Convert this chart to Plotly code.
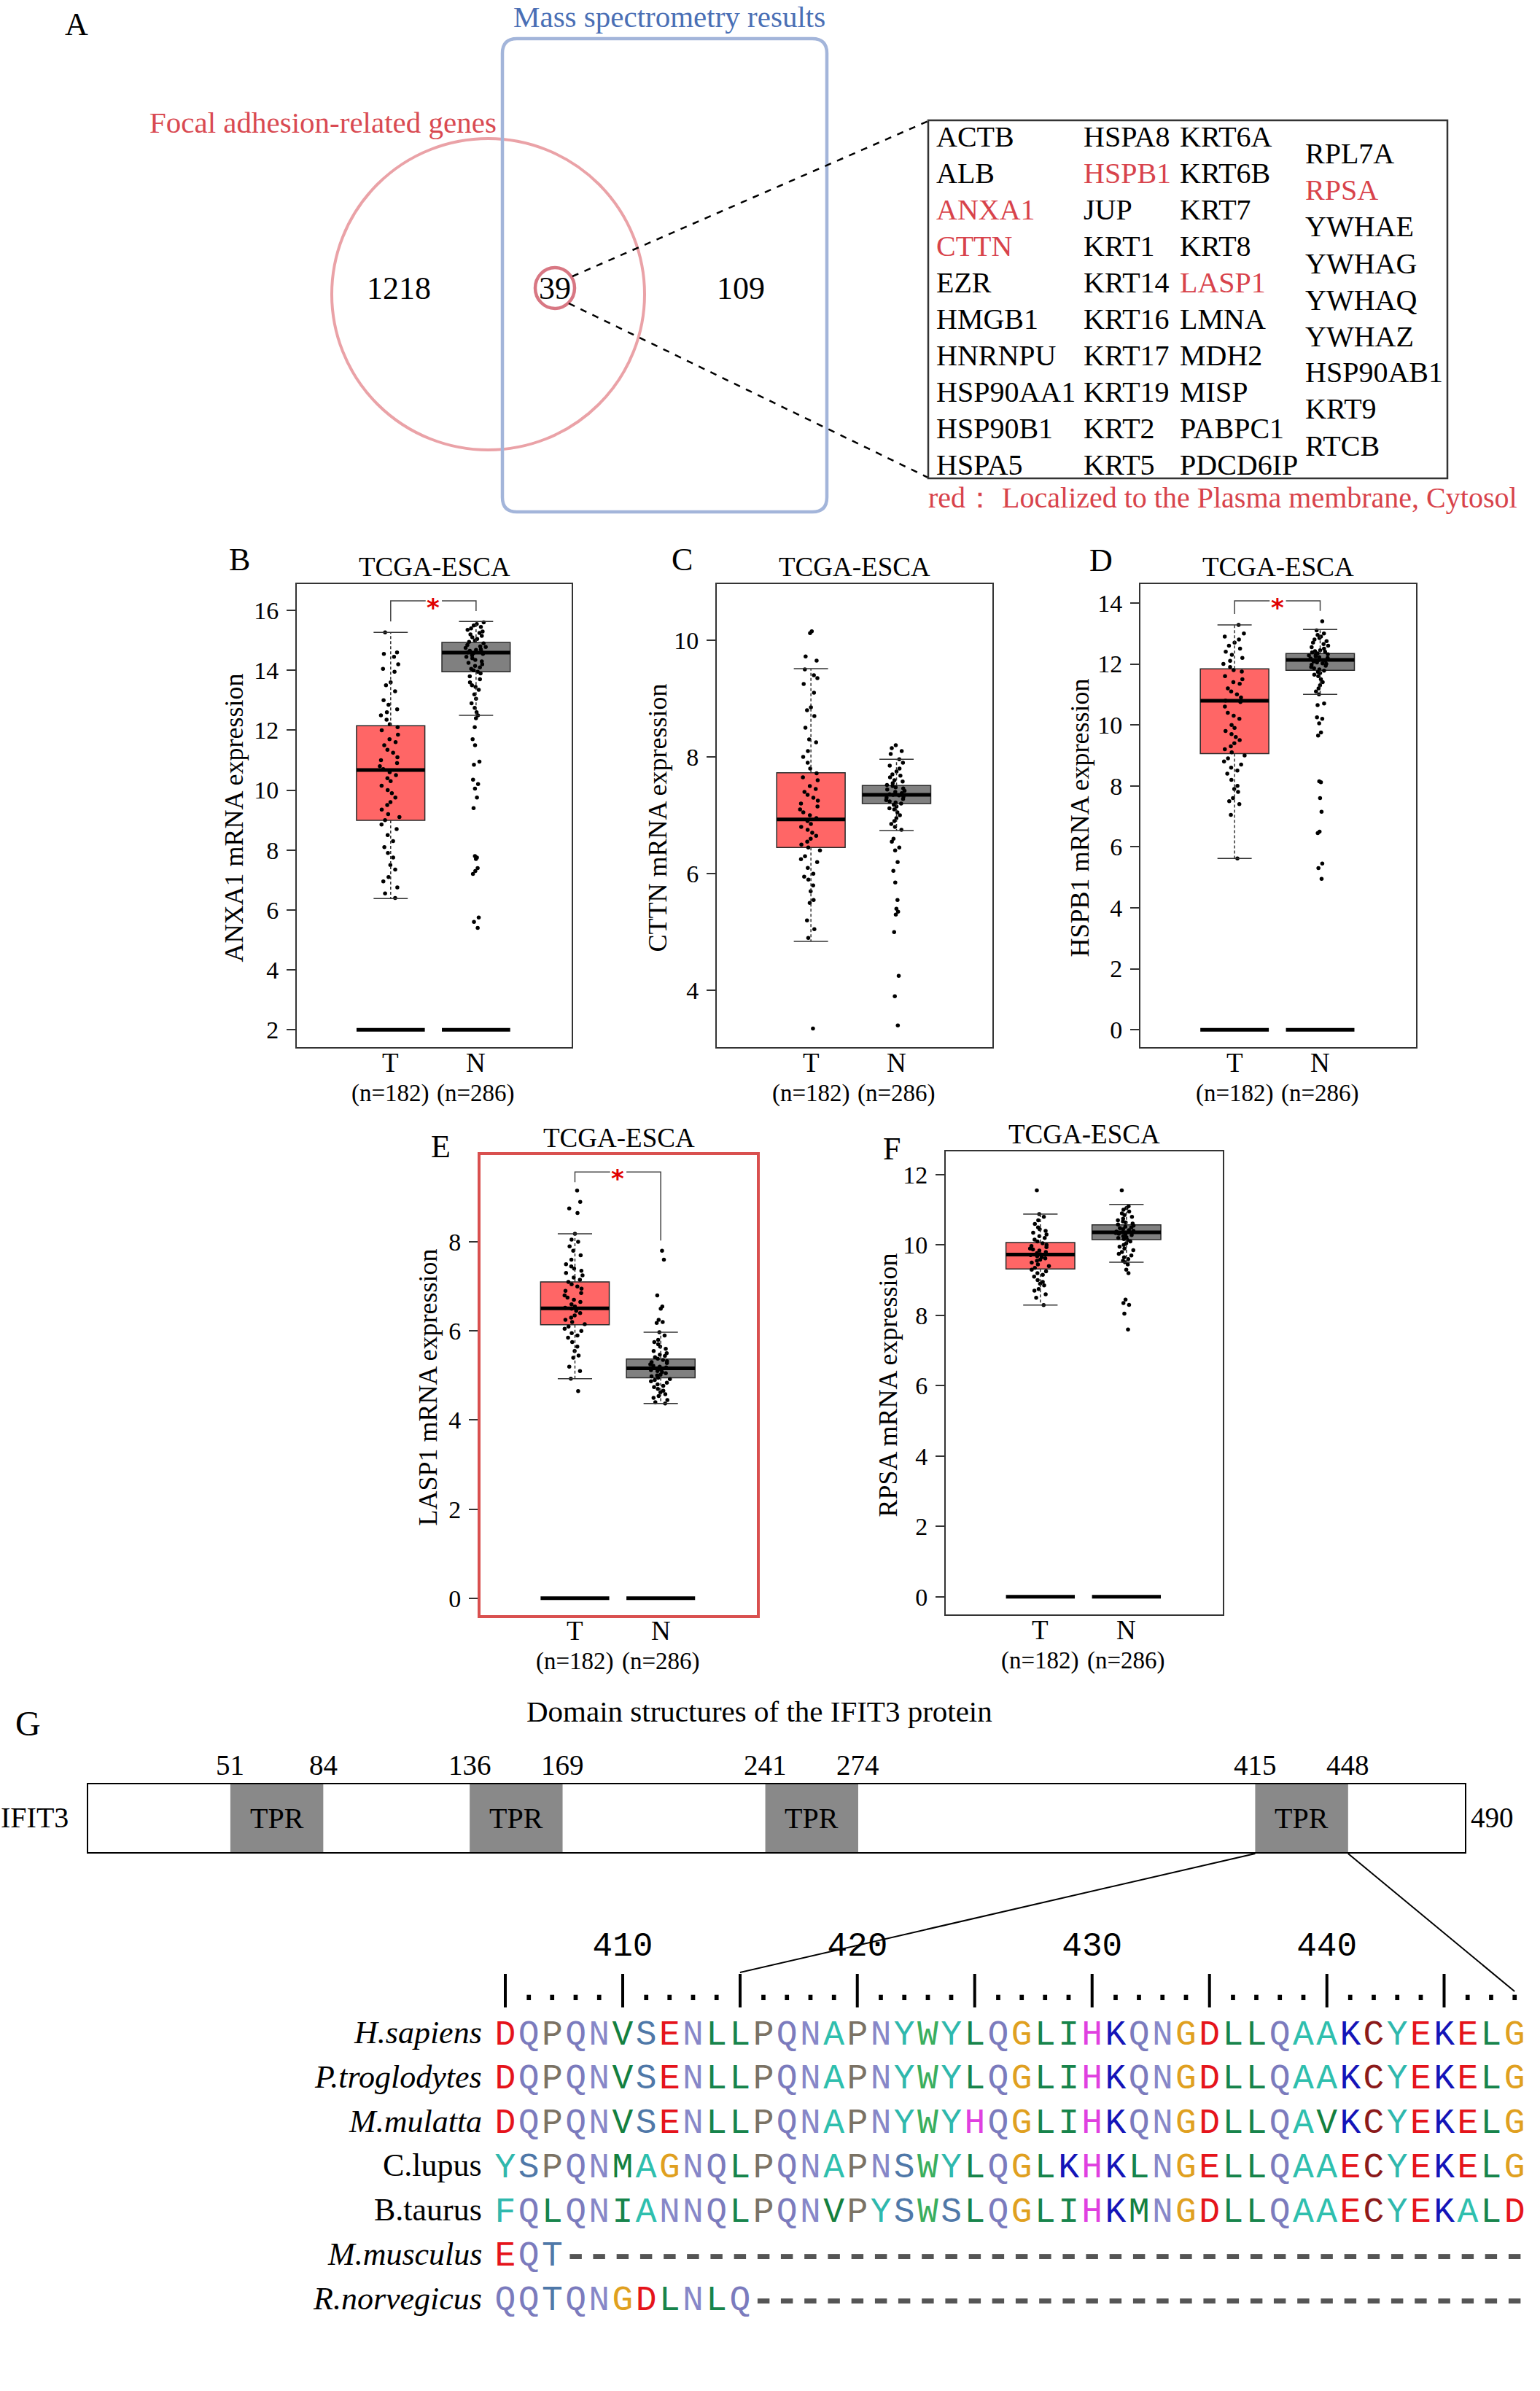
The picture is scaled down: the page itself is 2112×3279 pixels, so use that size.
import plotly.graph_objects as go

W, H = 2112, 3279
def X(px): return px / W
def Y(py): return 1 - py / H

# ======================= DATA =======================
venn_left_only = 1218
venn_overlap = 39
venn_right_only = 109
set_names = ["Focal adhesion-related genes", "Mass spectrometry results"]

gene_col1 = ["ACTB", "ALB", "ANXA1", "CTTN", "EZR", "HMGB1", "HNRNPU", "HSP90AA1", "HSP90B1", "HSPA5"]
gene_col2 = ["HSPA8", "HSPB1", "JUP", "KRT1", "KRT14", "KRT16", "KRT17", "KRT19", "KRT2", "KRT5"]
gene_col3 = ["KRT6A", "KRT6B", "KRT7", "KRT8", "LASP1", "LMNA", "MDH2", "MISP", "PABPC1", "PDCD6IP"]
gene_col4 = ["RPL7A", "RPSA", "YWHAE", "YWHAG", "YWHAQ", "YWHAZ", "HSP90AB1", "KRT9", "RTCB"]
red_genes = ["ANXA1", "CTTN", "HSPB1", "LASP1", "RPSA"]
legend_note = "red： Localized to the Plasma membrane, Cytosol"

dataset = "TCGA-ESCA"
genes = ["ANXA1", "CTTN", "HSPB1", "LASP1", "RPSA"]
panel_letters = ["B", "C", "D", "E", "F"]
groups = ["T", "N"]
group_n = [182, 286]
group_pos = [1, 2]

# (lower whisker, Q1, median, Q3, upper whisker)
stats_T = {
    "ANXA1": [6.38, 8.99, 10.67, 12.15, 15.27],
    "CTTN": [4.84, 6.45, 6.93, 7.73, 9.51],
    "HSPB1": [5.62, 9.06, 10.79, 11.84, 13.28],
    "LASP1": [4.93, 6.14, 6.51, 7.10, 8.18],
    "RPSA": [8.29, 9.32, 9.73, 10.07, 10.88],
}
stats_N = {
    "ANXA1": [12.50, 13.95, 14.59, 14.93, 15.63],
    "CTTN": [6.74, 7.20, 7.35, 7.51, 7.96],
    "HSPB1": [11.00, 11.79, 12.13, 12.34, 13.13],
    "LASP1": [4.37, 4.95, 5.16, 5.37, 5.97],
    "RPSA": [9.51, 10.15, 10.36, 10.57, 11.15],
}
# sample points (estimated, a representative subset)
pts_T = {
    "ANXA1": [15.27, 14.6, 14.55, 14.45, 14.2, 14.05, 13.95, 13.6, 13.5, 13.3, 13.0, 12.85, 12.7, 12.6, 12.5,
              12.35, 12.2, 12.1, 12.0, 11.85, 11.7, 11.6, 11.5, 11.35, 11.25, 11.1, 11.0, 10.9, 10.8, 10.7,
              10.6, 10.5, 10.4, 10.3, 10.15, 10.0, 9.9, 9.75, 9.6, 9.5, 9.35, 9.2, 9.1, 9.0, 8.85, 8.7, 8.5,
              8.3, 8.1, 7.9, 7.75, 7.5, 7.35, 7.1, 6.95, 6.75, 6.55, 6.4],
    "CTTN": [10.15, 10.12, 9.72, 9.65, 9.5, 9.4, 9.35, 9.25, 9.1, 8.85, 8.8, 8.7, 8.5, 8.3, 8.25, 8.1, 8.0,
             7.9, 7.8, 7.72, 7.65, 7.6, 7.5, 7.45, 7.4, 7.35, 7.3, 7.25, 7.2, 7.15, 7.1, 7.05, 7.0, 6.95, 6.9,
             6.85, 6.8, 6.75, 6.7, 6.65, 6.6, 6.55, 6.5, 6.45, 6.4, 6.3, 6.25, 6.2, 6.1, 6.0, 5.95, 5.9, 5.8,
             5.7, 5.55, 5.5, 5.2, 5.05, 4.9, 3.35],
    "HSPB1": [13.28, 13.0, 12.9, 12.8, 12.7, 12.6, 12.5, 12.4, 12.3, 12.2, 12.1, 12.0, 11.9, 11.8, 11.75,
              11.6, 11.5, 11.4, 11.35, 11.2, 11.1, 11.0, 10.9, 10.8, 10.75, 10.6, 10.4, 10.3, 10.2, 10.0, 9.9,
              9.8, 9.7, 9.6, 9.5, 9.4, 9.3, 9.2, 9.1, 9.0, 8.9, 8.8, 8.7, 8.6, 8.5, 8.4, 8.2, 8.0, 7.9, 7.8,
              7.6, 7.5, 7.4, 7.05, 5.62],
    "LASP1": [9.15, 8.9, 8.75, 8.65, 8.18, 8.05, 8.0, 7.9, 7.8, 7.7, 7.6, 7.5, 7.45, 7.4, 7.35, 7.3, 7.25,
              7.2, 7.15, 7.1, 7.05, 7.0, 6.95, 6.9, 6.85, 6.8, 6.75, 6.7, 6.65, 6.6, 6.55, 6.52, 6.5, 6.45,
              6.4, 6.35, 6.3, 6.25, 6.2, 6.15, 6.1, 6.05, 6.0, 5.95, 5.9, 5.85, 5.75, 5.65, 5.55, 5.45, 5.4,
              5.2, 5.1, 4.93, 4.65],
    "RPSA": [11.55, 10.88, 10.8, 10.7, 10.6, 10.5, 10.45, 10.4, 10.35, 10.3, 10.25, 10.2, 10.15, 10.1, 10.05,
             10.0, 9.97, 9.94, 9.9, 9.87, 9.84, 9.8, 9.77, 9.74, 9.71, 9.68, 9.65, 9.62, 9.58, 9.55, 9.5,
             9.45, 9.4, 9.35, 9.3, 9.25, 9.2, 9.15, 9.1, 9.0, 8.95, 8.9, 8.85, 8.75, 8.7, 8.6, 8.5, 8.29],
}
pts_N = {
    "ANXA1": [15.6, 15.55, 15.5, 15.45, 15.4, 15.35, 15.3, 15.25, 15.2, 15.15, 15.1, 15.05, 15.0, 14.95, 14.9,
              14.85, 14.8, 14.78, 14.75, 14.7, 14.68, 14.65, 14.62, 14.6, 14.58, 14.55, 14.5, 14.45, 14.4,
              14.35, 14.3, 14.25, 14.2, 14.15, 14.1, 14.05, 14.0, 13.95, 13.9, 13.8, 13.7, 13.6, 13.5, 13.45,
              13.35, 13.2, 13.05, 12.9, 12.75, 12.6, 12.5, 12.4, 12.1, 11.7, 11.5, 10.95, 10.85, 10.35, 10.2,
              10.05, 9.75, 9.4, 7.8, 7.75, 7.7, 7.4, 7.3, 7.2, 5.75, 5.6, 5.4],
    "CTTN": [8.2, 8.15, 8.1, 8.05, 7.96, 7.9, 7.85, 7.8, 7.75, 7.7, 7.68, 7.65, 7.6, 7.58, 7.55, 7.52, 7.5,
             7.48, 7.46, 7.44, 7.42, 7.4, 7.38, 7.36, 7.35, 7.34, 7.32, 7.3, 7.28, 7.26, 7.24, 7.22, 7.2,
             7.18, 7.15, 7.12, 7.1, 7.05, 7.0, 6.95, 6.9, 6.85, 6.8, 6.75, 6.6, 6.55, 6.45, 6.4, 6.2, 6.05,
             5.85, 5.55, 5.4, 5.35, 5.3, 5.0, 4.25, 3.9, 3.4],
    "HSPB1": [13.4, 13.1, 13.0, 12.95, 12.9, 12.85, 12.8, 12.75, 12.7, 12.65, 12.6, 12.55, 12.5, 12.45, 12.42,
              12.4, 12.38, 12.35, 12.32, 12.3, 12.28, 12.25, 12.22, 12.2, 12.18, 12.15, 12.13, 12.1, 12.08,
              12.05, 12.02, 12.0, 11.97, 11.94, 11.9, 11.86, 11.82, 11.78, 11.74, 11.7, 11.65, 11.6, 11.5,
              11.4, 11.3, 11.2, 11.1, 11.0, 10.7, 10.65, 10.25, 10.2, 10.05, 9.75, 9.65, 8.15, 8.12, 7.6,
              7.15, 6.5, 6.45, 5.45, 5.3, 4.95],
    "LASP1": [7.8, 7.6, 6.8, 6.55, 6.5, 6.25, 6.2, 6.18, 5.97, 5.9, 5.8, 5.75, 5.7, 5.65, 5.6, 5.55, 5.5,
              5.47, 5.44, 5.41, 5.38, 5.35, 5.32, 5.3, 5.28, 5.25, 5.22, 5.2, 5.18, 5.16, 5.14, 5.12, 5.1,
              5.08, 5.05, 5.02, 5.0, 4.98, 4.95, 4.92, 4.9, 4.87, 4.84, 4.8, 4.77, 4.74, 4.7, 4.66, 4.62,
              4.58, 4.54, 4.5, 4.45, 4.4, 4.37],
    "RPSA": [11.55, 11.1, 11.05, 11.0, 10.95, 10.9, 10.85, 10.8, 10.75, 10.7, 10.67, 10.64, 10.61, 10.58,
             10.55, 10.52, 10.5, 10.48, 10.45, 10.42, 10.4, 10.38, 10.36, 10.34, 10.32, 10.3, 10.28, 10.25,
             10.22, 10.2, 10.17, 10.14, 10.1, 10.05, 10.0, 9.95, 9.9, 9.85, 9.8, 9.75, 9.7, 9.65, 9.6, 9.55,
             9.51, 9.45, 9.3, 9.2, 8.45, 8.35, 8.3, 8.05, 7.6],
}
baseline = {"ANXA1": 2, "CTTN": 0, "HSPB1": 0, "LASP1": 0, "RPSA": 0}
# significance bracket: (bar height, T-end, N-end) or None
sig_bracket = {
    "ANXA1": (16.32, 15.63, 15.98),
    "CTTN": None,
    "HSPB1": (14.07, 13.64, 13.74),
    "LASP1": (9.57, 9.34, 8.03),
    "RPSA": None,
}

protein_name = "IFIT3"
protein_len = 490
tpr_start = [51, 136, 241, 415]
tpr_end = [84, 169, 274, 448]
domain_name = "TPR"
domain_title = "Domain structures of the IFIT3 protein"

aln_start = 405
species = ["H.sapiens", "P.troglodytes", "M.mulatta", "C.lupus", "B.taurus", "M.musculus", "R.norvegicus"]
species_italic = [True, True, True, False, False, True, True]
sequences = [
    "DQPQNVSENLLPQNAPNYWYLQGLIHKQNGDLLQAAKCYEKELG",
    "DQPQNVSENLLPQNAPNYWYLQGLIHKQNGDLLQAAKCYEKELG",
    "DQPQNVSENLLPQNAPNYWYHQGLIHKQNGDLLQAVKCYEKELG",
    "YSPQNMAGNQLPQNAPNSWYLQGLKHKLNGELLQAAECYEKELG",
    "FQLQNIANNQLPQNVPYSWSLQGLIHKMNGDLLQAAECYEKALD",
    "EQT-----------------------------------------",
    "QQTQNGDLNLQ---------------------------------",
]
ruler_labels = [410, 420, 430, 440]

aa_colors = {
    "D": "#e5141b", "E": "#e5141b", "Q": "#7b7bbd", "N": "#8787c8", "P": "#7b7264",
    "V": "#14803f", "L": "#17844b", "I": "#17844b", "M": "#14803f", "S": "#4f78a8",
    "T": "#4f78a8", "A": "#2fbfae", "Y": "#2fb8ad", "F": "#2fb8ad", "W": "#3aae5e",
    "G": "#e0a020", "H": "#e040e0", "K": "#1414b8", "R": "#1414b8", "C": "#8b1a1a",
    "-": "#555555",
}

# ======================= LAYOUT HELPERS =======================
SERIF = "Liberation Serif"
MONO = "Liberation Mono"
RED = "#d8434b"

annotations = []
shapes = []

def ann(text, x, y, size, family=SERIF, color="black", xanchor="center", yanchor="middle",
        xref="paper", yref="paper", angle=0, **kw):
    if xref == "paper":
        x = X(x)
    if yref == "paper":
        y = Y(y)
    annotations.append(dict(text=text, x=x, y=y, xref=xref, yref=yref, showarrow=False,
                            xanchor=xanchor, yanchor=yanchor, textangle=angle,
                            font=dict(family=family, size=size, color=color), **kw))

fig = go.Figure()

# ======================= PANEL A =======================
ann("A", 105, 33, 44)
rx0, ry0, rx1, ry1, rr = 689, 53, 1134, 702, 20
path = (f"M {X(rx0+rr)} {Y(ry0)} L {X(rx1-rr)} {Y(ry0)} Q {X(rx1)} {Y(ry0)} {X(rx1)} {Y(ry0+rr)} "
        f"L {X(rx1)} {Y(ry1-rr)} Q {X(rx1)} {Y(ry1)} {X(rx1-rr)} {Y(ry1)} "
        f"L {X(rx0+rr)} {Y(ry1)} Q {X(rx0)} {Y(ry1)} {X(rx0)} {Y(ry1-rr)} "
        f"L {X(rx0)} {Y(ry0+rr)} Q {X(rx0)} {Y(ry0)} {X(rx0+rr)} {Y(ry0)} Z")
shapes.append(dict(type="circle", xref="paper", yref="paper", x0=X(455), x1=X(884), y0=Y(617), y1=Y(190),
                   line=dict(color="#eaa2a7", width=4)))
shapes.append(dict(type="path", path=path, xref="paper", yref="paper", line=dict(color="#a3b5da", width=4.5)))
shapes.append(dict(type="circle", xref="paper", yref="paper", x0=X(734), x1=X(788), y0=Y(423), y1=Y(367),
                   line=dict(color="#d87783", width=4.5)))
shapes.append(dict(type="line", xref="paper", yref="paper", x0=X(785), y0=Y(379), x1=X(1273), y1=Y(166),
                   line=dict(color="black", width=2.5, dash="dash")))
shapes.append(dict(type="line", xref="paper", yref="paper", x0=X(780), y0=Y(416), x1=X(1273), y1=Y(655),
                   line=dict(color="black", width=2.5, dash="dash")))
ann(set_names[1], 918, 23, 41, color="#4a6fb5")
ann(set_names[0], 683, 168, 41, color="#d94a52", xanchor="right")
ann(str(venn_left_only), 547, 396, 44)
ann(str(venn_overlap), 761, 396, 44)
ann(str(venn_right_only), 1016, 396, 44)

shapes.append(dict(type="rect", xref="paper", yref="paper", x0=X(1273), x1=X(1985), y0=Y(656), y1=Y(165),
                   line=dict(color="#333333", width=2.5)))
for col, xl, y0 in [(gene_col1, 1282, 187.5), (gene_col2, 1484, 187.5), (gene_col3, 1616, 187.5),
                    (gene_col4, 1788, 211)]:
    for i, g in enumerate(col):
        ann(g, xl, y0 + 50 * i, 40, color=RED if g in red_genes else "black", xanchor="left")
ann(legend_note, 1271, 682, 40, color=RED, xanchor="left")

# ======================= BOX PANELS =======================
BOX_W = 0.8
CAP_HALF = 0.2
X_RANGE = [-0.10, 3.12]
fills = {"T": "#ff6666", "N": "#808080"}
panels = [
    dict(frame=(407, 784, 801, 1436), yr=(1.42, 16.88), letter=(328, 767), ytx=320),
    dict(frame=(983, 1361, 801, 1436), yr=(3.03, 10.96), letter=(935, 767), ytx=901),
    dict(frame=(1564, 1942, 801, 1436), yr=(-0.57, 14.62), letter=(1510, 768), ytx=1480),
    dict(frame=(659, 1038, 1584, 2215), yr=(-0.38, 9.95), letter=(604, 1572), ytx=586,
         fcolor="#d9504f", fwidth=4),
    dict(frame=(1297, 1677, 1579, 2214), yr=(-0.5, 12.66), letter=(1223, 1575), ytx=1217),
]
axis_ids = ["", "2", "3", "4", "5"]
axes_layout = {}

for k, (gene, p) in enumerate(zip(genes, panels)):
    aid = axis_ids[k]
    xa, ya = "x" + aid, "y" + aid
    fx0, fx1, fy0, fy1 = p["frame"]
    lc = p.get("fcolor", "#333333")
    lw = p.get("fwidth", 2)
    axes_layout["xaxis" + aid] = dict(domain=[X(fx0), X(fx1)], range=X_RANGE, anchor=ya, showline=True,
                                      mirror=True, linecolor=lc, linewidth=lw, showgrid=False, zeroline=False,
                                      showticklabels=False, ticks="", fixedrange=True)
    axes_layout["yaxis" + aid] = dict(domain=[Y(fy1), Y(fy0)], range=list(p["yr"]), anchor=xa, showline=True,
                                      mirror=True, linecolor=lc, linewidth=lw, showgrid=False, zeroline=False,
                                      ticks="outside", ticklen=12, tickwidth=2, tickcolor="#333333",
                                      tick0=0, dtick=2, ticklabelstandoff=4, fixedrange=True,
                                      tickfont=dict(family=SERIF, size=34, color="black"))

    stats = {"T": stats_T[gene], "N": stats_N[gene]}
    pts = {"T": pts_T[gene], "N": pts_N[gene]}
    wx, wy, cx, cy, mx, my, bx, by = [], [], [], [], [], [], [], []
    for grp, pos in zip(groups, group_pos):
        lo, q1, med, q3, hi = stats[grp]
        fig.add_trace(go.Box(x=[pos], q1=[q1], median=[med], q3=[q3], lowerfence=[q1], upperfence=[q3],
                             orientation="v", width=BOX_W, fillcolor=fills[grp], whiskerwidth=0,
                             line=dict(color="#2a2a2a", width=1.5), boxpoints=False,
                             xaxis=xa, yaxis=ya, hoverinfo="skip"))
        wx += [pos, pos, None, pos, pos, None]
        wy += [q3, hi, None, q1, lo, None]
        cx += [pos - CAP_HALF, pos + CAP_HALF, None, pos - CAP_HALF, pos + CAP_HALF, None]
        cy += [hi, hi, None, lo, lo, None]
        mx += [pos - BOX_W / 2, pos + BOX_W / 2, None]
        my += [med, med, None]
        bx += [pos - BOX_W / 2, pos + BOX_W / 2, None]
        by += [baseline[gene], baseline[gene], None]
    fig.add_trace(go.Scatter(x=wx, y=wy, mode="lines", line=dict(color="#333333", width=1.5, dash="4px,3px"),
                             xaxis=xa, yaxis=ya, hoverinfo="skip"))
    fig.add_trace(go.Scatter(x=cx, y=cy, mode="lines", line=dict(color="#333333", width=1.5),
                             xaxis=xa, yaxis=ya, hoverinfo="skip"))
    fig.add_trace(go.Scatter(x=bx, y=by, mode="lines", line=dict(color="black", width=5),
                             xaxis=xa, yaxis=ya, hoverinfo="skip"))
    for grp, pos in zip(groups, group_pos):
        fig.add_trace(go.Box(y=pts[grp], x0=pos, orientation="v", width=BOX_W, boxpoints="all", jitter=0.34,
                             pointpos=0, fillcolor="rgba(0,0,0,0)", line=dict(color="rgba(0,0,0,0)", width=0),
                             marker=dict(color="black", size=5.5), xaxis=xa, yaxis=ya, hoverinfo="skip"))
    fig.add_trace(go.Scatter(x=mx, y=my, mode="lines", line=dict(color="black", width=5),
                             xaxis=xa, yaxis=ya, hoverinfo="skip"))

    sb = sig_bracket[gene]
    if sb is not None:
        top, tdrop, ndrop = sb
        fig.add_trace(go.Scatter(x=[group_pos[0], group_pos[0], 1.41, None, 1.60, group_pos[1], group_pos[1]],
                                 y=[tdrop, top, top, None, top, top, ndrop], mode="lines",
                                 line=dict(color="#444444", width=1.5), xaxis=xa, yaxis=ya, hoverinfo="skip"))
        ann("<b>*</b>", 1.5, top, 34, family="DejaVu Sans", color="#e00000", xref=xa, yref=ya, yshift=-9)

    ann(dataset, (fx0 + fx1) / 2, fy0 - 24, 37)
    ann(panel_letters[k], p["letter"][0], p["letter"][1], 44)
    ann(f"{gene} mRNA expression", p["ytx"], (fy0 + fy1) / 2 + 3, 36, angle=-90)
    for grp, pos, n in zip(groups, group_pos, group_n):
        ann(grp, pos, fy1 + 21, 37, xref=xa)
        ann(f"(n={n})", pos, fy1 + 63, 33, xref=xa)

# ======================= PANEL G: domain =======================
ann("G", 38, 2363, 48)
ann(domain_title, 1041, 2347, 41)
DOM_X0, DOM_X1, DOM_Y0, DOM_Y1 = 119, 2011, 2445, 2542
axes_layout["xaxis6"] = dict(domain=[X(DOM_X0), X(DOM_X1)], range=[0, protein_len], visible=False,
                             anchor="y6", fixedrange=True)
axes_layout["yaxis6"] = dict(domain=[Y(DOM_Y1), Y(DOM_Y0)], range=[0, 1], visible=False, anchor="x6",
                             fixedrange=True)
for s, e in zip(tpr_start, tpr_end):
    shapes.append(dict(type="rect", xref="x6", yref="y6", x0=s, x1=e, y0=0, y1=1,
                       fillcolor="#898989", line=dict(width=0), layer="above"))
shapes.append(dict(type="rect", xref="x6", yref="y6", x0=0, x1=protein_len, y0=0, y1=1,
                   line=dict(color="black", width=4)))
for s, e in zip(tpr_start, tpr_end):
    ann(domain_name, (s + e) / 2, 0.5, 40, xref="x6", yref="y6")
    ann(str(s), s, 2420, 39, xref="x6")
    ann(str(e), e, 2420, 39, xref="x6")
ann(protein_name, 47, 2492, 40)
ann(str(protein_len), protein_len, 2492, 39, xref="x6", xanchor="left", xshift=4)

# ======================= alignment =======================
ALN_PX0, ALN_STEP = 693, 32.19
AX0, AX1 = 650, 2100
axes_layout["xaxis7"] = dict(domain=[X(AX0), X(AX1)],
                             range=[aln_start - (ALN_PX0 - AX0) / ALN_STEP,
                                    aln_start + (AX1 - ALN_PX0) / ALN_STEP],
                             visible=False, anchor="y7", fixedrange=True)
ROW0_PX, ROW_STEP = 2791.5, 60.75
AY0, AY1 = 2630, 3200
axes_layout["yaxis7"] = dict(domain=[Y(AY1), Y(AY0)],
                             range=[(AY1 - ROW0_PX) / ROW_STEP, (AY0 - ROW0_PX) / ROW_STEP],
                             visible=False, anchor="x7", fixedrange=True)

seq_len = len(sequences[0])
residues = list(range(aln_start, aln_start + seq_len))
fig.add_trace(go.Scatter(x=residues, y=[-1] * seq_len, mode="text",
                         text=["|" if r % 5 == 0 else "." for r in residues],
                         textfont=dict(family=MONO, size=50, color="black"), cliponaxis=False,
                         xaxis="x7", yaxis="y7", hoverinfo="skip"))
fig.add_trace(go.Scatter(x=ruler_labels, y=[-2] * len(ruler_labels), mode="text",
                         text=[str(v) for v in ruler_labels],
                         textfont=dict(family=MONO, size=46, color="black"), cliponaxis=False,
                         xaxis="x7", yaxis="y7", hoverinfo="skip"))
for i, (sp, it, seq) in enumerate(zip(species, species_italic, sequences)):
    lx = [r for r, c in zip(residues, seq) if c != "-"]
    lt = [c for c in seq if c != "-"]
    dx = [r for r, c in zip(residues, seq) if c == "-"]
    fig.add_trace(go.Scatter(x=lx, y=[i] * len(lx), mode="text", text=lt,
                             textfont=dict(family=MONO, size=48, color=[aa_colors[c] for c in lt]),
                             cliponaxis=False, xaxis="x7", yaxis="y7", hoverinfo="skip"))
    if dx:
        fig.add_trace(go.Scatter(x=dx, y=[i] * len(dx), mode="text", text=["-"] * len(dx),
                                 textfont=dict(family=MONO, size=58, color=aa_colors["-"], weight="bold"),
                                 cliponaxis=False, xaxis="x7", yaxis="y7", hoverinfo="skip"))
    ann(f"<i>{sp}</i>" if it else sp, 663, i, 44, xanchor="right", yref="y7", yshift=4)

def dom_px(r): return DOM_X0 + r / protein_len * (DOM_X1 - DOM_X0)
def aln_px(r): return ALN_PX0 + (r - aln_start) * ALN_STEP
shapes.append(dict(type="line", xref="paper", yref="paper", x0=X(dom_px(tpr_start[3])), y0=Y(DOM_Y1),
                   x1=X(aln_px(tpr_start[3])), y1=Y(2705), line=dict(color="black", width=2)))
shapes.append(dict(type="line", xref="paper", yref="paper", x0=X(dom_px(tpr_end[3])), y0=Y(DOM_Y1),
                   x1=X(aln_px(tpr_end[3])), y1=Y(2731), line=dict(color="black", width=2)))

fig.update_layout(width=W, height=H, margin=dict(l=0, r=0, t=0, b=0), paper_bgcolor="white",
                  plot_bgcolor="white", showlegend=False, boxmode="overlay",
                  annotations=annotations, shapes=shapes, **axes_layout)
fig.write_html("out.html")
